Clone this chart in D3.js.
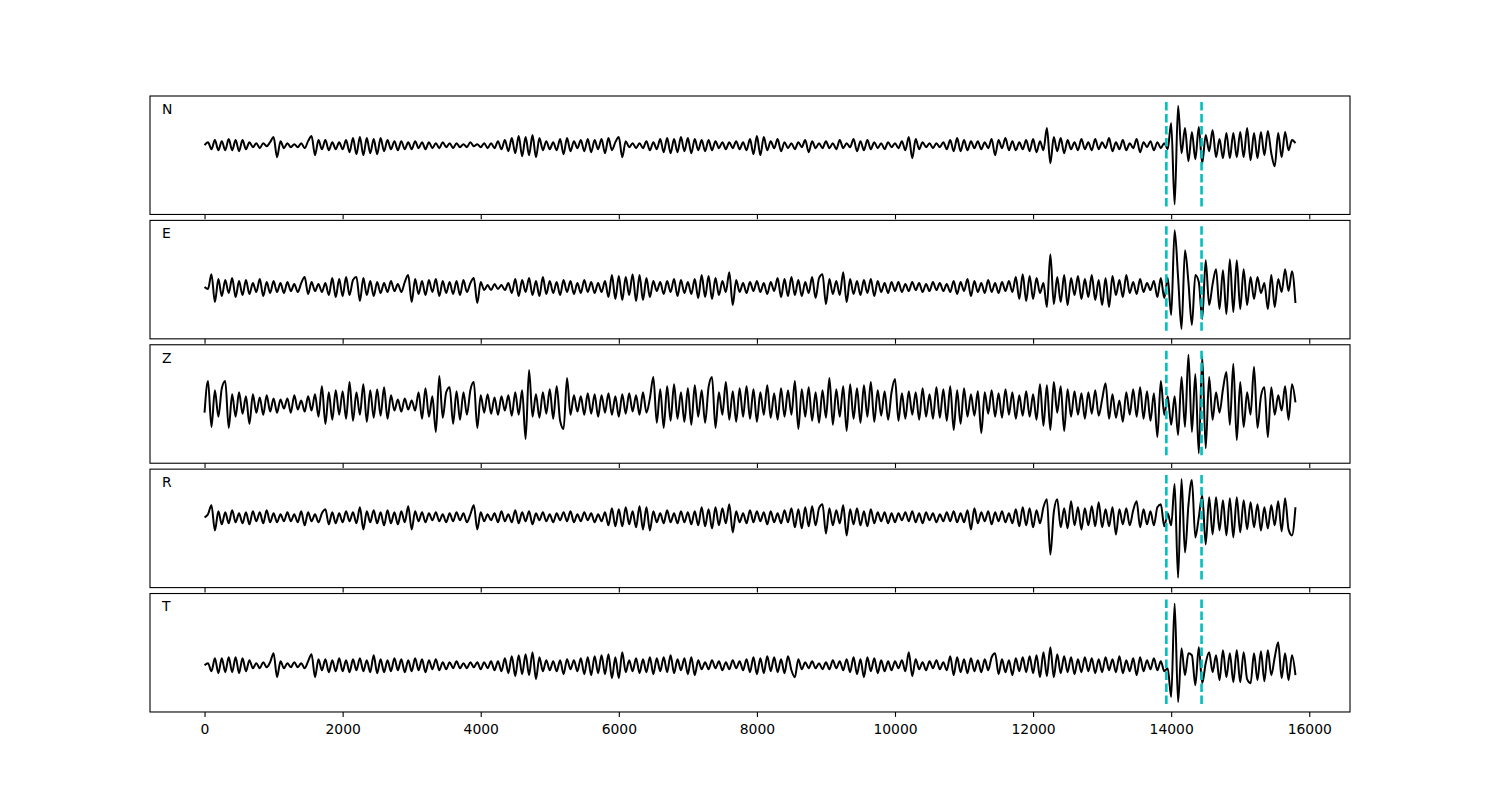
<!DOCTYPE html>
<html>
<head>
<meta charset="utf-8">
<script src="https://cdn.jsdelivr.net/npm/d3@7"></script>
<style>
body { margin: 0; background: #fff; }
</style>
</head>
<body>
<script>
var width = 1500
var height = 800
var left = 150
var plotWidth = 1200
var top0 = 96
var panelHeight = 118.46
var gap = 5.92
var step = 50

// traces, one sample every 50 units from 0 to 15800
var N = [
0,3,-4,5,-5,4,-5,6,-5,5,-6,5,-4,3,-2,2,-3,2,-1,3,
8,-12,4,-3,2,-2,1,-2,2,-3,4,9,-10,5,-4,5,-5,3,-4,3,
-4,5,-7,7,-9,8,-10,7,-8,6,-9,7,-6,5,-4,4,-5,4,-4,3,
-4,4,-3,3,-4,3,-3,2,-3,3,-2,2,-3,2,-2,1,-2,3,-1,1,
-2,2,-3,2,-3,4,-4,5,-6,7,-8,9,-11,8,-10,10,-12,7,-5,4,
-4,3,-5,6,-9,7,-6,4,-3,5,-6,6,-7,5,-4,6,-8,7,-5,3,
8,-12,4,-2,2,-3,2,-3,4,-5,3,-4,6,-7,7,-8,6,-7,8,-6,
7,-8,6,-5,5,-6,5,-5,4,-3,3,-4,3,-3,4,-4,3,-5,6,-9,
9,-10,8,-5,4,-3,6,-6,3,-3,2,-4,3,-2,5,-7,4,-3,2,-3,
4,-3,2,-4,5,-3,2,-2,6,-6,4,-5,5,-4,3,-3,2,-4,3,-2,
2,-3,4,-5,8,-13,6,-4,3,-2,2,-3,2,-2,3,-4,5,-6,7,-6,
5,-5,4,-3,4,-4,3,-3,6,-10,5,-3,7,-5,4,-5,3,-4,5,-6,
6,-7,4,-5,17,-18,8,-6,7,-8,5,-4,3,-5,6,-4,3,-5,6,-4,
3,-3,7,-6,3,-4,5,-5,2,-3,6,-7,3,-2,4,-5,3,-3,2,-4,
22,-59,39,-8,17,-16,13,-14,18,-18,10,-6,15,-12,6,-13,12,-13,12,-12,
13,-12,17,-15,12,-13,13,-10,14,-8,-21,12,-12,13,-5,5,2]

var E = [
0,-2,13,-15,8,-9,7,-6,9,-10,6,-8,7,-7,4,-5,8,-9,5,-6,
6,-5,4,-6,5,-4,3,-5,4,10,-7,5,-4,3,-5,4,-8,9,-10,8,
-9,10,-8,7,10,-14,9,-8,6,-9,5,-6,4,-5,6,-4,3,-5,5,12,
-15,8,-7,6,-8,7,-5,8,-9,6,-6,5,-7,6,-8,7,-5,4,9,-16,
5,-3,2,-3,3,-2,2,-3,4,-6,8,-9,7,-5,9,-8,6,-9,10,-7,
6,-6,5,-8,7,-5,6,-7,4,-6,7,-5,5,-6,4,-5,6,-10,12,-12,
11,-13,10,-8,13,-14,12,-13,9,-10,6,-4,5,-7,6,-5,8,-9,7,-6,
5,-7,8,-11,12,-10,11,-12,9,-8,6,-5,15,-18,7,-5,4,-6,5,-4,
6,-5,4,-7,5,-4,9,-10,8,-9,10,-8,7,-9,5,-6,10,-11,9,13,
-17,8,-7,6,-8,15,-15,8,-7,6,-8,7,-6,8,-9,6,-5,4,-6,5,
-4,5,-5,3,-4,5,-3,4,-5,3,-4,5,-3,4,-4,3,-5,6,-7,5,
-4,8,-9,6,-5,4,-6,7,-5,4,-6,5,-4,6,-5,10,-12,13,-14,11,
-12,9,-6,4,-20,33,-17,10,-15,12,-18,9,-8,11,-12,8,-10,12,-13,7,
-18,9,-20,11,-8,7,-10,12,-6,5,-7,8,-5,4,-3,6,-10,9,-11,9,
-28,57,10,-42,37,5,-38,12,5,-32,27,-18,3,18,-22,17,-27,28,-25,27,
-22,18,-18,10,-12,10,-6,4,-22,12,-20,8,-5,18,-4,16,-16]

var Z = [
-8,23,-22,14,-12,16,23,-23,10,-12,12,-9,8,-19,10,-8,7,-10,9,-7,
6,-8,5,-4,6,-8,9,-5,4,-7,8,-6,10,-12,18,-19,12,-15,14,-10,
13,-14,22,-16,12,-10,20,-17,14,-13,15,-11,17,-14,9,-6,5,-7,6,-5,
4,-6,12,-14,16,-12,8,-27,28,-13,12,17,-19,13,-15,12,-10,14,22,-23,
9,-8,10,-9,7,-10,8,-6,9,-11,12,-10,14,-34,34,-12,10,-13,12,-9,
15,-14,18,-16,-24,26,-10,9,-7,8,-10,11,-9,10,-12,9,-8,11,-10,8,
-12,10,-9,11,-7,9,-10,12,-8,6,27,-18,15,-23,18,-16,20,-14,12,-17,
16,-20,19,-12,14,-18,17,27,-23,12,-10,22,-15,13,-17,16,-12,18,-14,15,
-17,12,-10,19,-13,11,-15,16,-12,14,-10,23,-24,15,-12,17,-16,12,-18,14,
-13,26,-20,15,-12,18,-26,20,-14,16,-18,19,-12,22,-17,14,-11,13,-15,12,
25,-16,11,-14,13,-10,12,-15,16,-12,10,-14,17,-13,15,-16,18,-25,14,-19,
16,-12,10,-11,13,-28,12,-9,14,-12,11,-13,15,-10,12,-14,9,-11,13,-12,
10,-15,20,-21,19,-25,22,-8,18,-26,15,-12,13,-10,11,-14,12,-9,14,-11,
5,21,-14,10,-13,4,-17,12,-10,15,-12,17,-14,13,-16,11,-32,23,-10,8,
-20,8,-30,27,-22,49,-27,30,-48,47,-43,27,-15,12,-8,15,32,-20,40,-35,
22,-22,12,-10,37,-23,8,17,-32,17,-10,9,-6,18,-15,20,2]

var R = [
0,3,12,-13,6,-7,5,-6,7,-5,4,-6,5,-7,6,-4,5,-6,7,-5,
4,-5,3,-4,5,-4,3,-5,6,-8,5,-4,3,-5,4,8,-7,5,-6,4,
-5,6,-4,5,-6,10,-12,6,-5,7,-6,5,-8,7,-6,5,-7,6,-5,11,
-12,6,-4,5,-5,4,-3,5,-4,3,-5,4,-4,5,-3,4,-5,3,12,-12,
5,-4,3,-3,4,-5,6,-4,3,-5,7,-6,5,-4,6,-7,4,-3,5,-4,
3,-5,4,-3,5,-4,6,-5,3,-4,5,-3,4,-5,3,-4,5,-8,9,-9,
8,-9,10,-7,6,-10,11,-12,10,-13,6,-5,4,-6,7,-5,4,-6,6,-5,
5,-7,6,-8,10,-9,8,-11,10,-8,9,-6,13,-15,6,-5,4,-6,7,-5,
6,-4,5,-7,6,-5,4,-6,7,-5,9,-10,8,-11,10,-9,11,-8,9,13,
-16,9,-8,7,-6,12,-18,8,-7,9,-8,6,-9,8,-6,5,-4,5,-6,4,
-5,4,-3,5,-4,6,-5,4,-6,5,-3,4,-5,3,-4,5,-4,6,-5,4,
-5,7,-12,9,-6,5,-4,6,-7,5,-4,6,-5,4,-6,8,-9,10,-8,9,
-10,7,-6,10,18,-37,5,18,-10,9,-11,16,-8,10,-12,9,-8,11,-9,15,
-10,8,-9,10,-17,8,-7,9,-8,7,16,-10,8,-7,6,-8,10,13,-9,4,
-8,33,-60,38,-35,12,37,-20,0,22,-27,20,-17,20,-13,17,-18,19,-20,20,
-15,17,-12,15,-10,13,-13,10,-11,12,-8,16,-14,19,-12,-18,10]

var T = [
0,2,-6,7,-8,7,-7,8,-7,8,-8,7,-6,5,-3,2,-3,3,-2,3,
12,-12,4,-3,2,-2,3,-2,2,-3,4,11,-12,6,-5,6,-7,5,-6,7,
-6,5,-7,6,-5,7,-6,5,-7,10,-8,6,-7,5,-6,7,-5,6,-7,5,
-6,7,-5,6,-7,5,-4,6,-5,3,-4,3,-3,4,-3,2,-3,3,-2,3,
-4,3,-3,4,-5,4,-6,7,-8,9,-11,10,-9,11,-10,13,-14,8,-6,5,
-5,4,-6,5,-9,6,-4,5,-6,7,-9,8,-10,9,-8,10,-9,11,-13,8,
-13,13,-7,5,-6,7,-8,6,-7,8,-9,7,-6,8,-7,10,-8,6,-5,7,
-9,8,-10,5,-4,3,-4,5,-3,4,-5,3,-4,5,-3,4,-5,6,-7,8,
-9,7,-8,9,-6,8,-7,6,-8,9,-5,-12,6,-4,3,-3,4,-3,2,-4,
3,-4,5,-3,4,-5,6,-7,8,-9,6,-12,8,-6,7,-8,5,-6,4,-5,
4,-3,5,-6,13,-11,6,-4,3,-5,4,-3,5,-4,3,-5,9,-10,8,-7,
6,-8,7,-6,5,-7,6,-5,8,12,-9,6,-7,5,-10,7,-6,8,-7,9,
-8,10,-12,13,-11,18,-12,11,-8,9,-7,8,-9,6,-7,8,-6,7,-8,6,
-7,8,-5,6,-7,9,-8,5,-6,7,-10,8,-6,5,-4,7,-5,4,-6,-3,
-32,62,-37,17,-10,12,10,-20,18,-18,2,13,-7,10,-15,15,-12,12,-17,15,
-17,13,-14,-18,12,-15,14,-16,15,-10,8,23,-13,12,-15,10,-10]

var channels = ["N", "E", "Z", "R", "T"]
var traces = [N, E, Z, R, T]
var picks = [13930, 14440]
var xTicks = [0, 2000, 4000, 6000, 8000, 10000, 12000, 14000, 16000]

var xMax = (N.length - 1) * step
var x = d3.scaleLinear()
  .domain([-0.05 * xMax, 1.05 * xMax])
  .range([left, left + plotWidth])

var svg = d3.select("body").append("svg")
  .attr("width", width)
  .attr("height", height)
  .style("font-family", "DejaVu Sans, sans-serif")

svg.append("rect").attr("width", width).attr("height", height).attr("fill", "white")

traces.forEach(function(data, k) {
  var top = top0 + k * (panelHeight + gap)
  var ext = d3.extent(data)
  var pad = (ext[1] - ext[0]) * 0.1
  var y = d3.scaleLinear()
    .domain([ext[0] - pad, ext[1] + pad])
    .range([top + panelHeight, top])

  var g = svg.append("g")

  var line = d3.line()
    .x(function(d, i) { return x(i * step) })
    .y(function(d) { return y(d) })
    .curve(d3.curveMonotoneX)

  g.append("path")
    .datum(data)
    .attr("d", line)
    .attr("fill", "none")
    .attr("stroke", "black")
    .attr("stroke-width", 2)
    .attr("stroke-linejoin", "round")

  g.selectAll(".pick")
    .data(picks)
    .enter().append("line")
    .attr("x1", function(d) { return x(d) })
    .attr("x2", function(d) { return x(d) })
    .attr("y1", top + panelHeight * 0.05)
    .attr("y2", top + panelHeight * 0.95)
    .attr("stroke", "#00bfbf")
    .attr("stroke-width", 2.6)
    .attr("stroke-dasharray", "8.5,3.5")

  g.append("rect")
    .attr("x", left)
    .attr("y", top)
    .attr("width", plotWidth)
    .attr("height", panelHeight)
    .attr("fill", "none")
    .attr("stroke", "black")
    .attr("stroke-width", 1.1)

  var axis = d3.axisBottom(x)
    .tickValues(xTicks)
    .tickSize(4.9)
    .tickPadding(7)
    .tickFormat(d3.format("d"))
  if (k < traces.length - 1) axis.tickFormat("")

  var ax = g.append("g")
    .attr("transform", "translate(0," + (top + panelHeight) + ")")
    .call(axis)
  ax.select(".domain").remove()
  ax.selectAll("line").attr("stroke-width", 1.1)
  ax.selectAll("text")
    .attr("fill", "black")
    .style("font-family", "DejaVu Sans, sans-serif")
    .style("font-size", "13.9px")

  g.append("text")
    .attr("x", left + plotWidth * 0.01)
    .attr("y", top + panelHeight * 0.15)
    .style("font-size", "13.9px")
    .text(channels[k])
})
</script>
</body>
</html>
